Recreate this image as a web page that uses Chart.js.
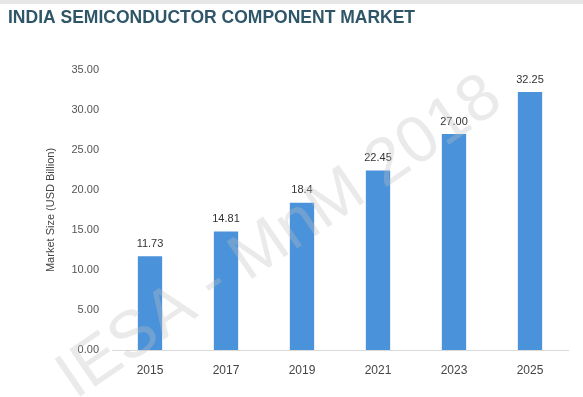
<!DOCTYPE html>
<html>
<head>
<meta charset="utf-8">
<script src="https://cdn.jsdelivr.net/npm/chart.js@4.4.1/dist/chart.umd.min.js"></script>
<style>
  html, body { margin: 0; padding: 0; background: #fff; }
  #wrap { position: relative; width: 583px; height: 397px; }
  #topband { position: absolute; left: 0; top: 0; width: 583px; height: 4px; background: #e6e6e6; }
</style>
</head>
<body>
<div id="wrap">
  <div id="topband"></div>
  <canvas id="marketChart" width="583" height="397"></canvas>
</div>
<script>
const years = ['2015', '2017', '2019', '2021', '2023', '2025'];
const valueLabels = ['11.73', '14.81', '18.4', '22.45', '27.00', '32.25'];
const marketSize = valueLabels.map(Number);
const yTicks = [0, 5, 10, 15, 20, 25, 30, 35];

const barColor = '#4a92da';
const baseFont = '"Liberation Sans", Arial, sans-serif';

// value text above each bar
const barLabels = {
    id: 'barLabels',
    afterDatasetsDraw(chart) {
        const c = chart.ctx;
        const meta = chart.getDatasetMeta(0);
        c.save();
        c.font = '11px ' + baseFont;
        c.fillStyle = '#333';
        c.textAlign = 'center';
        c.textBaseline = 'bottom';
        meta.data.forEach((bar, i) => {
            c.fillText(valueLabels[i], bar.x, bar.y - 7);
        });
        c.restore();
    }
};

// faint diagonal watermark across the plot
const watermark = {
    id: 'watermark',
    afterDraw(chart) {
        const c = chart.ctx;
        c.save();
        c.translate(280, 238);
        c.rotate(-0.6);
        c.font = '66px ' + baseFont;
        c.fillStyle = 'rgba(190,190,190,0.33)';
        c.textAlign = 'center';
        c.textBaseline = 'middle';
        c.fillText('IESA - MnM 2018', 0, 0);
        c.restore();
    }
};

const ctx = document.getElementById('marketChart').getContext('2d');
const marketChart = new Chart(ctx, {
    type: 'bar',
    data: {
        labels: years,
        datasets: [{
            data: marketSize,
            backgroundColor: barColor,
            borderWidth: 0,
            barPercentage: 0.32,
            categoryPercentage: 1
        }]
    },
    options: {
        responsive: false,
        animation: false,
        layout: { padding: { left: 8, right: 15, top: 0, bottom: 0 } },
        plugins: {
            legend: { display: false },
            tooltip: { enabled: false },
            title: {
                display: true,
                text: 'INDIA SEMICONDUCTOR COMPONENT MARKET',
                align: 'start',
                color: '#2e5668',
                font: { family: baseFont, size: 17.5, weight: 'bold' },
                padding: { top: 8, bottom: 41 }
            }
        },
        scales: {
            x: {
                afterFit(axis) { axis.height = 47; },
                grid: { display: false, drawTicks: false },
                border: { display: true, color: '#d9d9d9' },
                ticks: {
                    color: '#444',
                    padding: 13,
                    font: { family: baseFont, size: 12 }
                }
            },
            y: {
                min: 0,
                max: 35,
                afterFit(axis) { axis.width = 104; },
                afterBuildTicks(axis) {
                    axis.ticks = yTicks.map(v => ({ value: v }));
                },
                grid: { display: false, drawTicks: false },
                border: { display: false },
                title: {
                    display: true,
                    text: 'Market Size (USD Billion)',
                    color: '#444',
                    padding: { top: 36, bottom: 0 },
                    font: { family: baseFont, size: 11 }
                },
                ticks: {
                    color: '#555',
                    padding: 13,
                    font: { family: baseFont, size: 11 },
                    callback: v => Number(v).toFixed(2)
                }
            }
        }
    },
    plugins: [barLabels, watermark]
});
</script>
</body>
</html>
